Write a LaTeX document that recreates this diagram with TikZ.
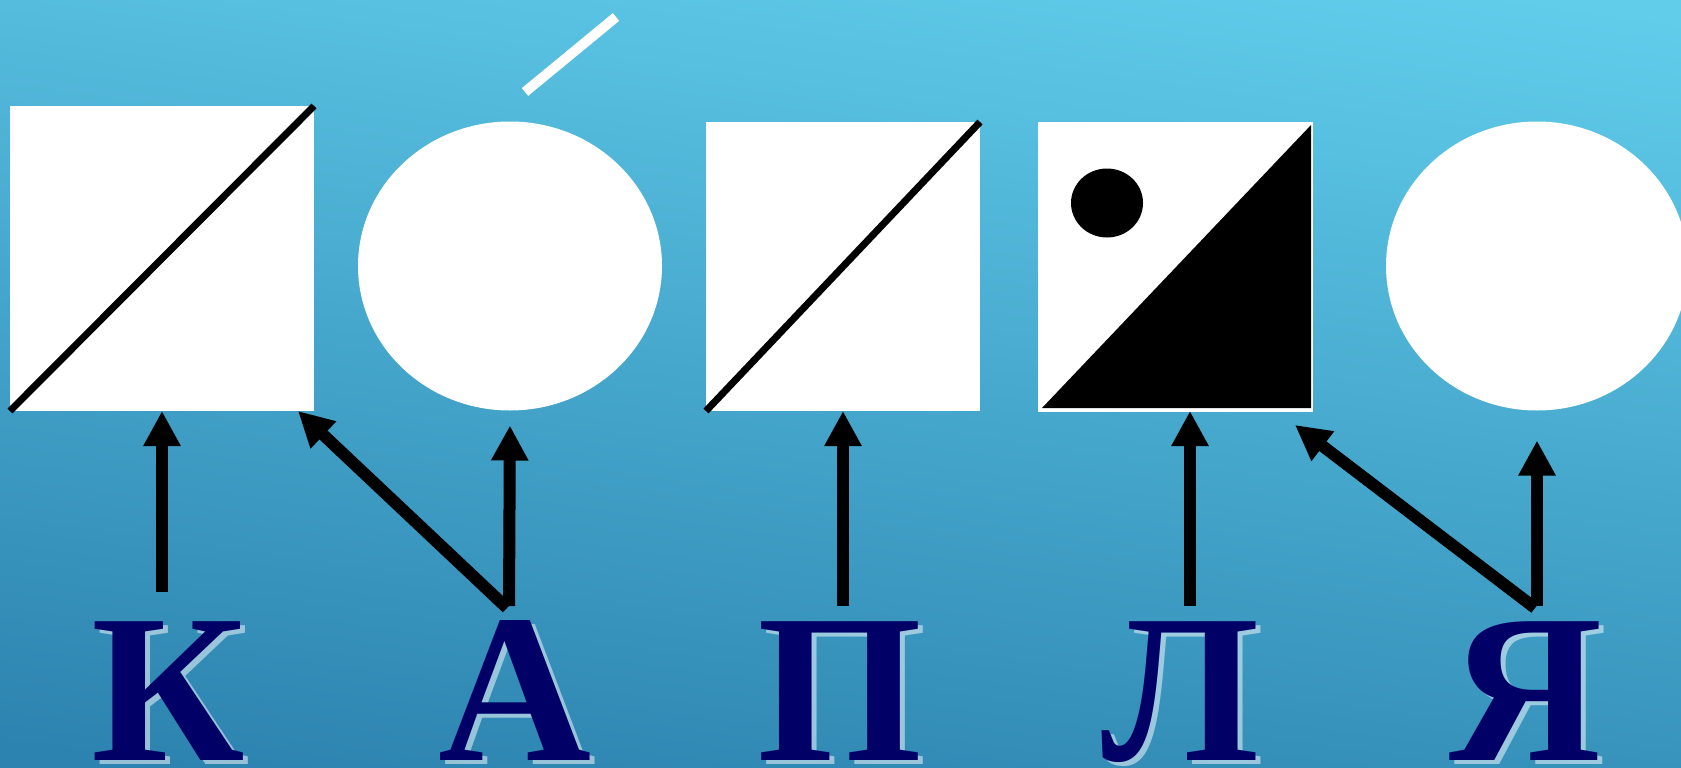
\documentclass[tikz,border=0pt]{standalone}
\usepackage{fontspec}
\setmainfont{Liberation Serif}
\usetikzlibrary{arrows.meta,shapes.geometric,calc}
\definecolor{bgtop}{HTML}{61CDEB}
\definecolor{bgbot}{HTML}{2C83AF}
\definecolor{navy}{HTML}{000066}
\begin{document}
\begin{tikzpicture}[x=1pt,y=-1pt,
  shapebox/.style={fill=white, inner sep=0pt, outer sep=0pt, rectangle},
  oval/.style={ellipse, fill=white, inner sep=0pt, outer sep=0pt},
  arr/.style={line width=12pt, -{Triangle[length=35pt,width=35pt]}},
  letter/.style={font=\fontsize{212}{212}\selectfont\bfseries, text=navy, anchor=base, inner sep=0pt},
  glow/.style={letter, text=white, opacity=0.5},
  diag/.style={line width=7pt, black}
]
\useasboundingbox (0,0) rectangle (1681,768);
\shade[top color=bgtop, bottom color=bgbot, shading angle=-8] (-40,-40) rectangle (1720,800);

% shapes
\node[shapebox, minimum width=304pt, minimum height=305pt] (sq1) at (162,258.5) {};
\node[oval, minimum width=304pt, minimum height=289pt] (ov1) at (510,266) {};
\node[shapebox, minimum width=274pt, minimum height=289pt] (sq2) at (843,266.5) {};
\node[shapebox, draw=white, line width=1pt, minimum width=274pt, minimum height=289pt] (sq3) at (1175,266.5) {};
\node[oval, minimum width=302pt, minimum height=289pt] (ov2) at (1537,266) {};

\draw[diag] (sq1.south west) -- (sq1.north east);
\draw[diag] (sq2.south west) -- (sq2.north east);
\fill[black] ($(sq3.south west)+(4,-3)$) -- ($(sq3.north east)+(-1,3)$) -- ($(sq3.south east)+(-1,-3)$) -- cycle;
\node[ellipse, fill=black, inner sep=0pt, minimum width=72pt, minimum height=69pt] (dot) at (1107,203) {};

% accent
\coordinate (acc1) at (525,92);
\coordinate (acc2) at (616,17);
\draw[white, line width=10pt] (acc1) -- (acc2);

% letters
\foreach \x/\l in {168/К,515/А,840/П,1180/Л,1526/Я}{
  \node[glow] at (\x+5,764) {\l};
}
\node[letter] (K) at (168,760) {К};
\node[letter] (A) at (515,760) {А};
\node[letter] (P) at (840,760) {П};
\node[letter] (L) at (1180,760) {Л};
\node[letter] (Ya) at (1526,760) {Я};

% arrows
\coordinate (kS) at (162,592);
\coordinate (aS) at (509,606);
\coordinate (aD) at (507,608);
\coordinate (pS) at (843,606);
\coordinate (lS) at (1190,606);
\coordinate (yS) at (1537,606);
\coordinate (yD) at (1535,608);

\draw[arr] (kS) -- (sq1.south);
\draw[arr, shorten >=15pt] (aS) -- (ov1.south);
\draw[arr] (aD) -- ($(sq1.south east)+(-16,0)$);
\draw[arr] (pS) -- (sq2.south);
\draw[arr] (lS) -- (lS |- sq3.south);
\draw[arr, shorten >=30pt] (yS) -- (ov2.south);
\draw[arr] (yD) -- ($(sq3.south east)+(-17,14)$);
\end{tikzpicture}
\end{document}
